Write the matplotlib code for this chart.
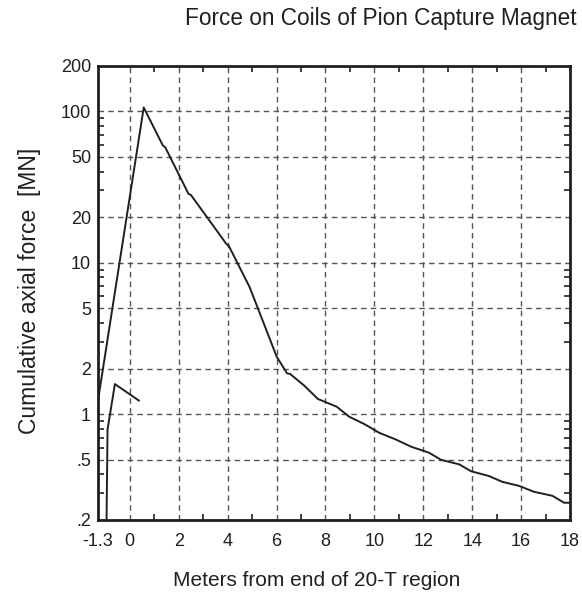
import matplotlib
matplotlib.use("Agg")
import matplotlib.pyplot as plt
from matplotlib.ticker import FixedLocator, LogLocator, NullFormatter

plt.rcParams['font.family'] = ['Liberation Sans', 'DejaVu Sans']

# Curva principal (fuerza axial acumulada)
x_main = [-1.3, 0.57, 1.35, 1.45, 2.4, 2.5, 3.95, 4.05, 4.9, 6.01, 6.43, 6.56, 7.14, 7.69,
          8.46, 8.98, 9.59, 10.2, 10.88, 11.5, 12.24, 12.72, 13.47, 13.95, 14.69, 15.24,
          15.92, 16.53, 17.28, 17.76, 18.0]
y_main = [1.23, 106, 59.5, 57.8, 28.5, 28.0, 13.3, 12.9, 6.9, 2.39, 1.86, 1.84, 1.54, 1.26,
          1.12, 0.96, 0.86, 0.753, 0.68, 0.61, 0.556, 0.50, 0.466, 0.42, 0.39, 0.357,
          0.336, 0.307, 0.289, 0.26, 0.26]

# Curva secundaria (bobina inicial)
x_sec = [-0.95, -0.91, -0.61, 0.37]
y_sec = [0.2, 0.79, 1.58, 1.23]

x_ticks = [-1.3, 0, 2, 4, 6, 8, 10, 12, 14, 16, 18]
x_labels = ['-1.3', '0', '2', '4', '6', '8', '10', '12', '14', '16', '18']
y_ticks = [0.2, 0.5, 1, 2, 5, 10, 20, 50, 100, 200]
y_labels = ['.2', '.5', '1', '2', '5', '10', '20', '50', '100', '200']

fig = plt.figure(figsize=(5.82, 5.94), dpi=100)
ax = fig.add_axes([98 / 582, 1 - 520 / 594, 472 / 582, (520 - 65.7) / 594])

ax.plot(x_main, y_main, color='#231f20', lw=1.4)
ax.plot(x_sec, y_sec, color='#231f20', lw=1.4)

ax.set_yscale('log')
ax.set_xlim(-1.3, 18)
ax.set_ylim(0.2, 200)

ax.set_xticks(x_ticks)
ax.set_xticklabels(x_labels)
ax.xaxis.set_minor_locator(FixedLocator([1, 3, 5, 7, 9, 11, 13, 15, 17]))
ax.set_yticks(y_ticks)
ax.set_yticklabels(y_labels)
ax.yaxis.set_minor_locator(LogLocator(base=10, subs=[3, 4, 6, 7, 8, 9]))
ax.yaxis.set_minor_formatter(NullFormatter())

ax.tick_params(which='major', length=0, labelsize=13, colors='#231f20')
ax.tick_params(axis='x', which='major', pad=9)
ax.tick_params(axis='y', which='major', pad=5)
ax.tick_params(which='minor', direction='in', length=4, width=1.2, color='#231f20',
               top=True, right=True, bottom=True, left=True)

for s in ax.spines.values():
    s.set_linewidth(2)
    s.set_color('#231f20')

ax.grid(which='major', linestyle=(0, (4, 3)), color='#555555', lw=1)

fig.text(381 / 582, 1 - 18 / 594, 'Force on Coils of Pion Capture Magnet',
         ha='center', va='center', fontsize=16.3, color='#231f20')
fig.text(317 / 582, 1 - 580 / 594, 'Meters from end of 20-T region',
         ha='center', va='center', fontsize=15, color='#231f20')
fig.text(30 / 582, 1 - 291 / 594, 'Cumulative axial force  [MN]', rotation=90,
         ha='center', va='center', fontsize=16.5, color='#231f20')

plt.savefig("out.png", dpi=100)
